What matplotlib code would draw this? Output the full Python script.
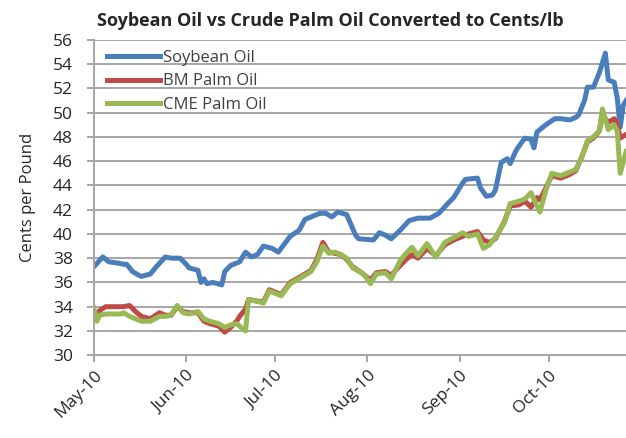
import matplotlib
matplotlib.use("Agg")
import matplotlib.pyplot as plt
import matplotlib.dates as mdates
import pandas as pd

# soybean oil, cents/lb
soy_dates = ["2010-05-01", "2010-05-04", "2010-05-06", "2010-05-09", "2010-05-11", "2010-05-12",
             "2010-05-14", "2010-05-16", "2010-05-17", "2010-05-20", "2010-05-22", "2010-05-25",
             "2010-05-27", "2010-05-30", "2010-06-01", "2010-06-02", "2010-06-05", "2010-06-06",
             "2010-06-07", "2010-06-08", "2010-06-10", "2010-06-13", "2010-06-14", "2010-06-16",
             "2010-06-19", "2010-06-21", "2010-06-23", "2010-06-25", "2010-06-27", "2010-06-30",
             "2010-07-02", "2010-07-06", "2010-07-09", "2010-07-11", "2010-07-13", "2010-07-16",
             "2010-07-18", "2010-07-20", "2010-07-22", "2010-07-25", "2010-07-28", "2010-07-29",
             "2010-08-03", "2010-08-05", "2010-08-07", "2010-08-09", "2010-08-12", "2010-08-15",
             "2010-08-18", "2010-08-22", "2010-08-25", "2010-08-28", "2010-08-30", "2010-09-02",
             "2010-09-03", "2010-09-07", "2010-09-08", "2010-09-10", "2010-09-12", "2010-09-13",
             "2010-09-15", "2010-09-17", "2010-09-18", "2010-09-20", "2010-09-22", "2010-09-23",
             "2010-09-25", "2010-09-26", "2010-09-27", "2010-09-30", "2010-10-03", "2010-10-05",
             "2010-10-08", "2010-10-10", "2010-10-11", "2010-10-13", "2010-10-14", "2010-10-16",
             "2010-10-18", "2010-10-20", "2010-10-21", "2010-10-23", "2010-10-24", "2010-10-25",
             "2010-10-26", "2010-10-27"]
soy = [37.3, 38.1, 37.7, 37.6, 37.5, 37.5,
       36.9, 36.6, 36.5, 36.7, 37.3, 38.1,
       38.0, 38.0, 37.5, 37.2, 37.0, 36.0,
       36.3, 35.9, 36.0, 35.8, 36.9, 37.4,
       37.7, 38.5, 38.1, 38.3, 39.0, 38.8,
       38.5, 39.8, 40.3, 41.2, 41.4, 41.7,
       41.7, 41.4, 41.8, 41.6, 39.9, 39.6,
       39.5, 40.1, 39.9, 39.6, 40.3, 41.1,
       41.3, 41.3, 41.7, 42.5, 43.0, 44.2,
       44.5, 44.6, 43.8, 43.1, 43.2, 43.6,
       45.9, 46.2, 45.8, 46.9, 47.6, 47.9,
       47.8, 47.1, 48.4, 49.0, 49.5, 49.5,
       49.4, 49.6, 49.8, 51.0, 52.1, 52.1,
       53.3, 54.9, 52.7, 52.5, 51.2, 48.8,
       50.6, 51.0]

# palm oil, same dates for both exchanges
palm_dates = ["2010-05-01", "2010-05-02", "2010-05-03", "2010-05-05", "2010-05-07", "2010-05-10",
              "2010-05-11", "2010-05-13", "2010-05-15", "2010-05-17", "2010-05-20", "2010-05-23",
              "2010-05-25", "2010-05-27", "2010-05-29", "2010-05-31", "2010-06-02", "2010-06-05",
              "2010-06-07", "2010-06-09", "2010-06-12", "2010-06-14", "2010-06-16", "2010-06-18",
              "2010-06-19", "2010-06-21", "2010-06-22", "2010-06-24", "2010-06-27", "2010-06-29",
              "2010-07-03", "2010-07-06", "2010-07-09", "2010-07-13", "2010-07-15", "2010-07-17",
              "2010-07-19", "2010-07-21", "2010-07-23", "2010-07-25", "2010-07-27", "2010-07-30",
              "2010-07-31", "2010-08-02", "2010-08-04", "2010-08-07", "2010-08-09", "2010-08-12",
              "2010-08-14", "2010-08-16", "2010-08-18", "2010-08-21", "2010-08-24", "2010-08-27",
              "2010-08-30", "2010-09-02", "2010-09-04", "2010-09-07", "2010-09-09", "2010-09-11",
              "2010-09-13", "2010-09-16", "2010-09-18", "2010-09-21", "2010-09-23", "2010-09-25",
              "2010-09-27", "2010-09-28", "2010-09-30", "2010-10-02", "2010-10-05", "2010-10-08",
              "2010-10-10", "2010-10-12", "2010-10-14", "2010-10-16", "2010-10-18", "2010-10-19",
              "2010-10-21", "2010-10-23", "2010-10-24", "2010-10-25", "2010-10-27"]
bm_palm = [33.5, 33.3, 33.7, 34.0, 34.0, 34.0,
           34.0, 34.1, 33.6, 33.2, 33.0, 33.5,
           33.3, 33.3, 34.0, 33.6, 33.5, 33.5,
           32.8, 32.6, 32.4, 31.9, 32.3, 32.8,
           33.2, 33.8, 34.6, 34.5, 34.4, 35.4,
           35.0, 36.0, 36.4, 37.0, 37.9, 39.3,
           38.5, 38.4, 38.3, 37.9, 37.3, 36.8,
           36.6, 36.2, 36.8, 36.9, 36.6, 37.4,
           37.9, 38.3, 38.0, 38.8, 38.2, 39.1,
           39.5, 39.8, 40.0, 40.2, 39.5, 39.3,
           39.6, 41.0, 42.3, 42.4, 42.7, 42.2,
           43.0, 42.8, 43.8, 44.8, 44.6, 44.9,
           45.2, 46.3, 47.6, 47.9, 48.5, 49.8,
           49.2, 49.5, 49.0, 47.9, 48.2]
cme_palm = [33.9, 32.8, 33.3, 33.4, 33.4, 33.4,
            33.5, 33.2, 33.0, 32.8, 32.8, 33.2,
            33.2, 33.3, 34.1, 33.5, 33.4, 33.6,
            33.0, 32.8, 32.6, 32.3, 32.5, 32.6,
            32.4, 32.0, 34.6, 34.5, 34.3, 35.3,
            34.9, 35.9, 36.3, 36.9, 37.7, 39.0,
            38.4, 38.5, 38.3, 38.0, 37.2, 36.8,
            36.6, 35.9, 36.7, 36.8, 36.3, 37.8,
            38.4, 38.9, 38.2, 39.2, 38.1, 39.3,
            39.7, 40.1, 39.8, 40.0, 38.8, 39.1,
            39.7, 40.9, 42.5, 42.7, 42.9, 43.4,
            42.3, 41.8, 43.6, 45.0, 44.8, 45.1,
            45.3, 46.3, 47.7, 48.0, 48.5, 50.3,
            48.6, 49.0, 48.5, 45.0, 46.8]

month_ticks = ["2010-05-01", "2010-06-01", "2010-07-01", "2010-08-01", "2010-09-01", "2010-10-01"]

plt.rcParams["font.family"] = ["Open Sans", "DejaVu Sans"]
txt_col = "#262626"

soy_x = pd.to_datetime(soy_dates)
palm_x = pd.to_datetime(palm_dates)

fig = plt.figure(figsize=(6.26, 4.38), dpi=100)
ax = fig.add_axes([0.150, 0.189, 0.855, 0.720])

grid_col = "#a6a6a6"
ax.plot(soy_x, soy, color="#4a7ebb", lw=3.6, label="Soybean Oil", solid_joinstyle="round")
ax.plot(palm_x, bm_palm, color="#be4b48", lw=3.6, label="BM Palm Oil", solid_joinstyle="round")
ax.plot(palm_x, cme_palm, color="#98b954", lw=3.6, label="CME Palm Oil", solid_joinstyle="round")

ax.set_ylim(30, 56)
ax.set_yticks(range(30, 57, 2))
ax.set_xlim(pd.Timestamp("2010-05-01"), pd.Timestamp("2010-10-28"))
ax.set_xticks(pd.to_datetime(month_ticks))
ax.xaxis.set_major_formatter(mdates.DateFormatter("%b-%y"))

ax.yaxis.grid(True, color=grid_col, lw=1.4)
ax.set_axisbelow(True)
for s in ["top", "right"]:
    ax.spines[s].set_visible(False)
for s in ["left", "bottom"]:
    ax.spines[s].set_color(grid_col)
    ax.spines[s].set_linewidth(1.4)
ax.tick_params(axis="both", color=grid_col, width=1.4, length=5, labelsize=12.5,
               labelcolor=txt_col)
ax.tick_params(axis="y", pad=10)
ax.tick_params(axis="x", pad=4)
plt.setp(ax.get_xticklabels(), rotation=45, ha="right", rotation_mode="anchor")

ax.set_ylabel("Cents per Pound", fontsize=12, labelpad=12, color=txt_col)
fig.text(0.528, 0.953, "Soybean Oil vs Crude Palm Oil Converted to Cents/lb",
         ha="center", va="center", fontsize=13, fontweight="bold", color=txt_col)

leg = ax.legend(loc="upper left", bbox_to_anchor=(0.005, 1.0), frameon=False, fontsize=12,
                handlelength=3.2, handletextpad=0.2, labelspacing=0.45, borderaxespad=0.2)
for t in leg.get_texts():
    t.set_color("#404040")

fig.savefig("out.png", dpi=100)
